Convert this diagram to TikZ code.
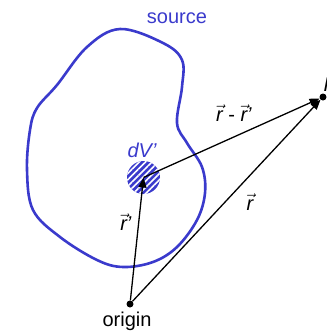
\documentclass[tikz,border=0pt]{standalone}
\usepackage{fontspec}
\setmainfont{Liberation Sans}
\usepackage{tikz}
\usetikzlibrary{arrows.meta,patterns.meta}
\definecolor{srcblue}{RGB}{58,58,204}

\begin{document}
\begin{tikzpicture}[x=1pt, y=-1pt,
    vec/.style={-{Triangle[length=10pt,width=8pt]}, line width=1.3pt},
    lab/.style={font=\fontsize{20}{22}\selectfont, inner sep=0pt},
    dot/.style={circle, fill=black, minimum size=7pt, inner sep=0pt}]
  \clip (0,0) rectangle (327,333);
  % source region
  \draw[srcblue, line width=2.6pt] plot[smooth cycle, tension=0.6] coordinates {
    (120,29) (163,43) (182,60) (182,87) (177,123) (187,143) (202,167)
    (205,193) (197,220) (177,247) (153,262) (123,267) (97,260) (60,237)
    (33,210) (27,170) (30,130) (37,108) (57,85) (87,47)};
  \node[lab, text=srcblue] (source) at (177,18) {source};
  % volume element
  \node[circle, minimum size=33pt, inner sep=0pt, fill=srcblue,
        postaction={pattern={Lines[angle=45,distance=4.5pt,line width=1.6pt]}, pattern color=white}]
        (dv) at (143.5,177.5) {};
  \node[lab, text=srcblue, font=\fontsize{20}{22}\selectfont\itshape] (dvlab) at (142,150) {dV'};
  \node[dot] (org) at (130,304) {};
  \node[dot] (pt) at (323,97) {};
  \node[lab] (orglab) at (127,321) {origin};
  \node[lab, font=\fontsize{20}{22}\selectfont\itshape, anchor=base west] (ptlab) at (323.5,91) {P};
  % vectors
  \draw[vec] (org) -- (dv.center);
  \draw[vec] (dv.center) -- (pt);
  \draw[vec] (org) -- (pt);
  \node[lab] (rplab) at (126,222) {$\vec{\textit{r}}$\textit{'}};
  \node[lab] (rlab) at (250,202) {$\vec{\textit{r}}$};
  \node[lab] (difflab) at (234,113) {$\vec{\textit{r}}$ - $\vec{\textit{r}}$\textit{'}};
\end{tikzpicture}
\end{document}
